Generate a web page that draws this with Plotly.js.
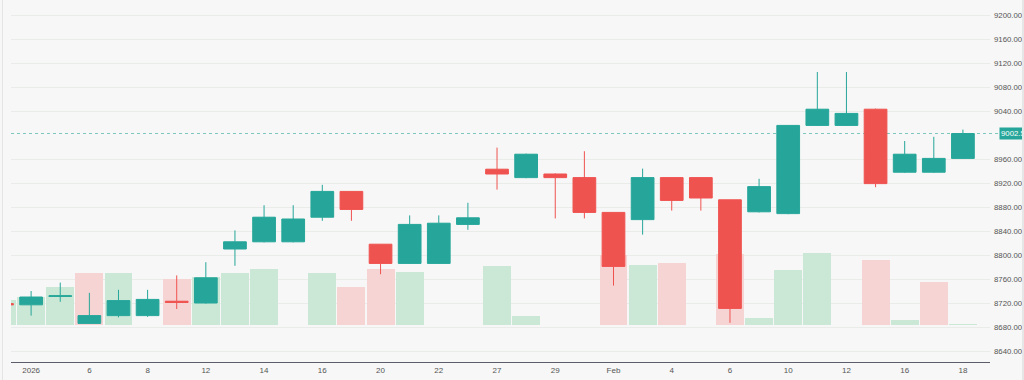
<!DOCTYPE html>
<html>
<head>
<meta charset="utf-8">
<script src="https://cdn.plot.ly/plotly-3.0.1.min.js"></script>
<style>
  html, body { margin: 0; padding: 0; background: #f6f7f6; overflow: hidden; }
  #wrap { position: relative; width: 1024px; height: 380px; }
  #chart { position: absolute; left: 0; top: 0; width: 1024px; height: 380px; }
  #leftline { position: absolute; left: 2px; top: 0; width: 1px; height: 380px; background: #e3e5e3; }
  #rightstrip { position: absolute; left: 1022px; top: 0; width: 2px; height: 380px; background: #e6e6e6; }
</style>
</head>
<body>
<div id="wrap">
  <div id="chart"></div>
  <div id="leftline"></div>
  <div id="rightstrip"></div>
</div>
<script>
// ---- data ----
const dates = ['2025-12-31','2026-01-02','2026-01-05','2026-01-06','2026-01-07','2026-01-08','2026-01-09',
  '2026-01-12','2026-01-13','2026-01-14','2026-01-15','2026-01-16','2026-01-19','2026-01-20','2026-01-21',
  '2026-01-22','2026-01-23','2026-01-27','2026-01-28','2026-01-29','2026-01-30','2026-02-02','2026-02-03',
  '2026-02-04','2026-02-05','2026-02-06','2026-02-09','2026-02-10','2026-02-11','2026-02-12','2026-02-13',
  '2026-02-16','2026-02-17','2026-02-18'];
const openP  = [8719, 8717, 8731, 8686, 8699, 8699, 8723, 8720, 8810, 8822, 8822, 8863, 8906, 8818, 8786, 8786, 8851,
  8943, 8929, 8935, 8929, 8871, 8859, 8929, 8929, 8892, 8872, 8869, 9016, 9016, 9043, 8938, 8938, 8961];
const highP  = [8720, 8740, 8754, 8737, 8742, 8742, 8766, 8788, 8841, 8883, 8883, 8917, 8906, 8818, 8866, 8866, 8887,
  8979, 8969, 8936, 8973, 8871, 8944, 8929, 8929, 8892, 8927, 9016, 9105, 9105, 9044, 8990, 8997, 9009];
const lowP   = [8716, 8699, 8722, 8685, 8696, 8697, 8710, 8719, 8782, 8821, 8821, 8857, 8857, 8768, 8785, 8785, 8842,
  8909, 8928, 8861, 8861, 8749, 8834, 8874, 8874, 8687, 8871, 8868, 9015, 9015, 8913, 8937, 8937, 8960];
const closeP = [8717, 8730, 8732, 8699, 8724, 8726, 8721, 8762, 8822, 8863, 8860, 8906, 8876, 8786, 8851, 8853, 8862,
  8935, 8968, 8929, 8871, 8781, 8929, 8891, 8895, 8711, 8914, 9016, 9043, 9036, 8919, 8968, 8961, 9002.5];
const volume = [250, 280, 380, 520, 520, 0, 460, 480, 520, 560, 0, 520, 380, 560, 530, 0, 0,
  590, 90, 0, 0, 700, 600, 620, 0, 710, 70, 550, 720, 0, 650, 50, 430, 15];
const lastPrice = 9002.5;
const priceTicks = [8640, 8680, 8720, 8760, 8800, 8840, 8880, 8920, 8960, 9040, 9080, 9120, 9160, 9200];
const tickDates = ['2026-01-02','2026-01-06','2026-01-08','2026-01-12','2026-01-14','2026-01-16','2026-01-20',
  '2026-01-22','2026-01-27','2026-01-29','2026-02-02','2026-02-04','2026-02-06','2026-02-10','2026-02-12',
  '2026-02-16','2026-02-18'];
const tickText = ['2026','6','8','12','14','16','20','22','27','29','Feb','4','6','10','12','16','18'];

// ---- styles ----
const UP = '#26a69a', DOWN = '#ef5350';
const VUP = '#cbe7d6', VDOWN = '#f6d4d4';
const volColors = closeP.map((c, i) => (i === 0 || c >= closeP[i - 1]) ? VUP : VDOWN);

const volTrace = {
  type: 'bar', x: dates, y: volume, xaxis: 'x', yaxis: 'y',
  marker: { color: volColors, line: { width: 0 } },
  width: 0.96, hoverinfo: 'skip', showlegend: false
};
const candle = {
  type: 'candlestick', x: dates, open: openP, high: highP, low: lowP, close: closeP,
  xaxis: 'x', yaxis: 'y2',
  increasing: { line: { color: UP, width: 1 }, fillcolor: UP },
  decreasing: { line: { color: DOWN, width: 1 }, fillcolor: DOWN },
  whiskerwidth: 0, showlegend: false
};

const fontFam = 'Liberation Sans, Arial, sans-serif';
const layout = {
  width: 1024, height: 380,
  margin: { l: 11, r: 34, t: 0, b: 18, pad: 0 },
  paper_bgcolor: '#f6f7f6', plot_bgcolor: '#f6f7f6',
  showlegend: false,
  boxgap: 0.22, boxgroupgap: 0,
  bargap: 0,
  font: { family: fontFam, size: 8, color: '#555' },
  xaxis: {
    type: 'category', range: [0.309, 33.93],
    showgrid: false, zeroline: false,
    showline: true, linecolor: '#5b5e69', linewidth: 1,
    ticks: '', tickvals: tickDates, ticktext: tickText,
    tickfont: { family: fontFam, size: 8, color: '#555' },
    rangeslider: { visible: false }, fixedrange: true
  },
  yaxis: {
    range: [-367, 3253], showgrid: false, zeroline: false, showticklabels: false,
    ticks: '', showline: false, fixedrange: true
  },
  yaxis2: {
    overlaying: 'y', side: 'right', range: [8621.7, 9225],
    tickmode: 'array', tickvals: priceTicks, tickformat: '.2f',
    showgrid: true, gridcolor: '#eaecea', gridwidth: 1,
    zeroline: false, showline: false, ticks: '',
    tickfont: { family: fontFam, size: 7.8, color: '#555' },
    ticklabelstandoff: 3, fixedrange: true
  },
  shapes: [
    { type: 'line', xref: 'paper', yref: 'y2', x0: 0, x1: 1.009, y0: lastPrice, y1: lastPrice,
      line: { color: '#7cc8bf', width: 1, dash: 'dot' }, layer: 'below' }
  ],
  annotations: [
    { xref: 'paper', yref: 'y2', x: 1.0092, y: lastPrice, xanchor: 'left', yanchor: 'middle',
      text: lastPrice.toFixed(2), showarrow: false, bgcolor: UP, borderpad: 1,
      font: { family: 'Liberation Sans Narrow, Liberation Sans, Arial, sans-serif', size: 7.8, color: '#ffffff' } }
  ]
};

Plotly.newPlot('chart', [volTrace, candle], layout, { displayModeBar: false, staticPlot: true });
</script>
</body>
</html>
